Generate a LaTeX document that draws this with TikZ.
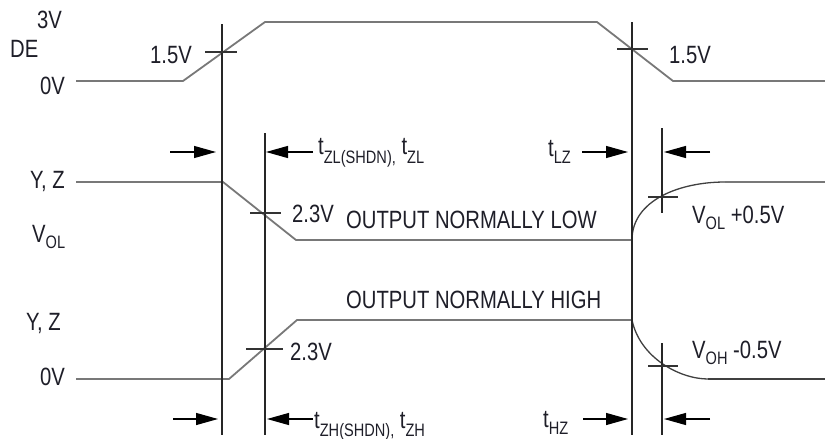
\documentclass[tikz,border=0pt]{standalone}
\usepackage{fontspec}
\setmainfont{Liberation Sans}[FakeStretch=0.81]
\usetikzlibrary{arrows.meta}
\definecolor{txt}{RGB}{30,30,40}
\definecolor{wave}{RGB}{120,120,120}
\newcommand\subsc[2][6pt]{\raisebox{-#1}{\fontsize{18}{18}\selectfont #2}}
\begin{document}
\begin{tikzpicture}[x=1pt,y=-1pt,
  lbl/.style={anchor=base west,inner sep=0pt,text=txt,font=\fontsize{25}{30}\selectfont},
  wavef/.style={draw=wave,line width=1.8pt,line join=round},
  curvef/.style={draw=black!75,line width=1.3pt},
  vline/.style={draw=black!85,line width=1.2pt},
  tick/.style={draw=black!80,line width=1.2pt},
  tarrow/.style={draw=black,line width=1.2pt,-{Triangle[length=22pt,width=12pt]}}]
\useasboundingbox (0,0) rectangle (825,439);
% DE waveform
\coordinate (de0) at (76,81);
\coordinate (de1) at (183,81);
\coordinate (de2) at (265,22);
\coordinate (de3) at (597,22);
\coordinate (de4) at (673,81);
\coordinate (de5) at (825,81);
\draw[wavef] (de0) -- (de1) -- (de2) -- (de3) -- (de4) -- (de5);
% Y,Z normally low
\coordinate (a0) at (76,182);
\coordinate (a1) at (223,182);
\coordinate (a2) at (296,240);
\coordinate (a3) at (632,240);
\coordinate (a4) at (725,182);
\coordinate (a5) at (825,182);
\draw[wavef] (a0) -- (a1) -- (a2) -- (a3);
\draw[curvef] (a3) .. controls (632,200) and (680,182) .. (a4);
\draw[wavef] (a4) -- (a5);
% Y,Z normally high
\coordinate (b0) at (76,379);
\coordinate (b1) at (229,379);
\coordinate (b2) at (297,320);
\coordinate (b3) at (632,320);
\coordinate (b4) at (708,379);
\coordinate (b5) at (825,379);
\draw[wavef] (b0) -- (b1) -- (b2) -- (b3);
\draw[curvef] (b3) .. controls (640,358) and (680,379) .. (b4);
\draw[curvef] (b4) -- (b5);
% vertical lines
\coordinate (v1t) at (222,24);  \coordinate (v1b) at (222,435);
\coordinate (v2t) at (265,133); \coordinate (v2b) at (265,435);
\coordinate (v3t) at (632,22);  \coordinate (v3b) at (632,435);
\coordinate (v4t) at (662,128); \coordinate (v4m) at (662,213);
\coordinate (v5t) at (662,343); \coordinate (v5b) at (662,435);
\draw[vline] (v1t) -- (v1b);
\draw[vline] (v2t) -- (v2b);
\draw[vline] (v3t) -- (v3b);
\draw[vline] (v4t) -- (v4m);
\draw[vline] (v5t) -- (v5b);
% ticks
\coordinate (k1a) at (205,52); \coordinate (k1b) at (237,52);
\coordinate (k2a) at (617,49); \coordinate (k2b) at (648,49);
\coordinate (k3a) at (250,213); \coordinate (k3b) at (281,213);
\coordinate (k4a) at (246,349); \coordinate (k4b) at (283,349);
\coordinate (k5a) at (648,197); \coordinate (k5b) at (678,197);
\coordinate (k6a) at (648,366); \coordinate (k6b) at (678,366);
\foreach \k in {1,...,6} {\draw[tick] (k\k a) -- (k\k b);}
% timing arrows
\coordinate (r1a) at (170,152); \coordinate (r1b) at (216,152);
\coordinate (r2a) at (313,152); \coordinate (r2b) at (266,152);
\coordinate (r3a) at (582,152); \coordinate (r3b) at (628,152);
\coordinate (r4a) at (710,152); \coordinate (r4b) at (664,152);
\coordinate (s1a) at (173,419); \coordinate (s1b) at (218,419);
\coordinate (s2a) at (313,419); \coordinate (s2b) at (267,419);
\coordinate (s3a) at (583,419); \coordinate (s3b) at (628,419);
\coordinate (s4a) at (710,419); \coordinate (s4b) at (664,419);
\foreach \k in {1,...,4} {\draw[tarrow] (r\k a) -- (r\k b); \draw[tarrow] (s\k a) -- (s\k b);}
% labels
\node[lbl] (l3v) at (37,28) {3V};
\node[lbl] (lde) at (10,57) {DE};
\node[lbl] (l0v) at (40,94) {0V};
\node[lbl] (l15a) at (150,63) {1.5V};
\node[lbl] (l15b) at (669,63) {1.5V};
\node[lbl] (lyz1) at (30,188) {Y, Z};
\node[lbl] (lvol) at (32,242) {V\subsc{OL}};
\node[lbl] (l23a) at (292,222) {2.3V};
\node[lbl] (lonl) at (346,228) {OUTPUT NORMALLY LOW};
\node[lbl] (lvolp) at (692,223) {V\subsc{OL} +0.5V};
\node[lbl] (lonh) at (346,308) {OUTPUT NORMALLY HIGH};
\node[lbl] (lyz2) at (26,330) {Y, Z};
\node[lbl] (l0v2) at (40,385) {0V};
\node[lbl] (l23b) at (290,360) {2.3V};
\node[lbl] (lvohm) at (692,358) {V\subsc{OH} -0.5V};
\node[lbl] (ltzl) at (318,154) {t\subsc[9pt]{ZL(SHDN),} t\subsc[9pt]{ZL}};
\node[lbl] (ltlz) at (548,156) {t\subsc[7pt]{LZ}};
\node[lbl] (ltzh) at (314,428) {t\subsc[8pt]{ZH(SHDN),} t\subsc[8pt]{ZH}};
\node[lbl] (lthz) at (543,427) {t\subsc[7pt]{HZ}};
\end{tikzpicture}
\end{document}
